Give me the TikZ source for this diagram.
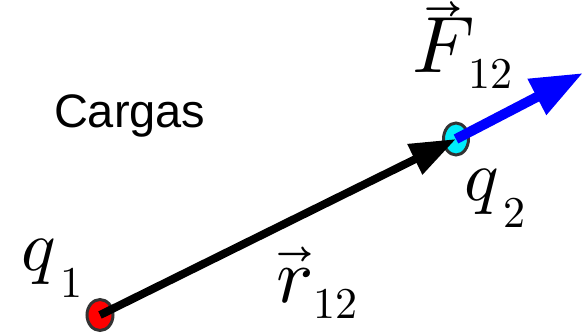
\documentclass[tikz,border=0pt]{standalone}
\usepackage{fontspec}
\usepackage{unicode-math}
\setmathfont{Latin Modern Math}
\newfontfamily\cargasfont{Liberation Sans}
\usetikzlibrary{arrows.meta,shapes.geometric}
\definecolor{chargeedge}{RGB}{51,51,51}
\definecolor{qtwo}{RGB}{0,236,250}
\tikzset{
  charge/.style={ellipse, draw=chargeedge, line width=3pt, inner sep=0pt},
  lab/.style={anchor=base west, inner sep=0pt, outer sep=0pt},
  rvec/.style={line width=8pt, -{Triangle[length=46pt,width=32pt]}},
  fvec/.style={blue, line width=10pt, -{Triangle[length=52pt,width=38pt]}}
}
% #1 main, #2 subscript, #3 lowering, #4 gap, #5 main size
\newcommand{\biglab}[5]{{\fontsize{#5}{#5}\selectfont$#1$}\hspace{#4}\raisebox{#3}{\fontsize{44}{44}\selectfont$#2$}}
\newcommand{\lowvecF}{\vec{\smash{F}\vphantom{\raisebox{-5pt}{$F$}}}}
\begin{document}
\begin{tikzpicture}[x=1pt,y=-1pt]
\useasboundingbox (0,0) rectangle (584,333);
\node[charge, fill=red, minimum width=26pt, minimum height=31pt] (q1) at (100,315) {};
\node[charge, fill=qtwo, minimum width=25pt, minimum height=32pt] (q2) at (456,139) {};
\coordinate (ftip) at (583,73);
\draw[rvec] (q1.center) -- (q2.center);
\draw[fvec] (q2.center) -- (ftip);
\node[lab] (cargas) at (54,127) {\fontsize{47}{47}\selectfont\cargasfont Cargas};
\node[lab] (lq1) at (21,270) {\biglab{q}{1}{-27pt}{5pt}{72}};
\node[lab] (lr) at (276,302) {\biglab{\vec{r}}{12}{-16pt}{1pt}{78}};
\node[lab] (lF) at (412,72) {\biglab{\lowvecF}{12}{-16pt}{-6pt}{80}};
\node[lab] (lq2) at (464,200) {\biglab{q}{2}{-27pt}{5pt}{72}};
\end{tikzpicture}
\end{document}
